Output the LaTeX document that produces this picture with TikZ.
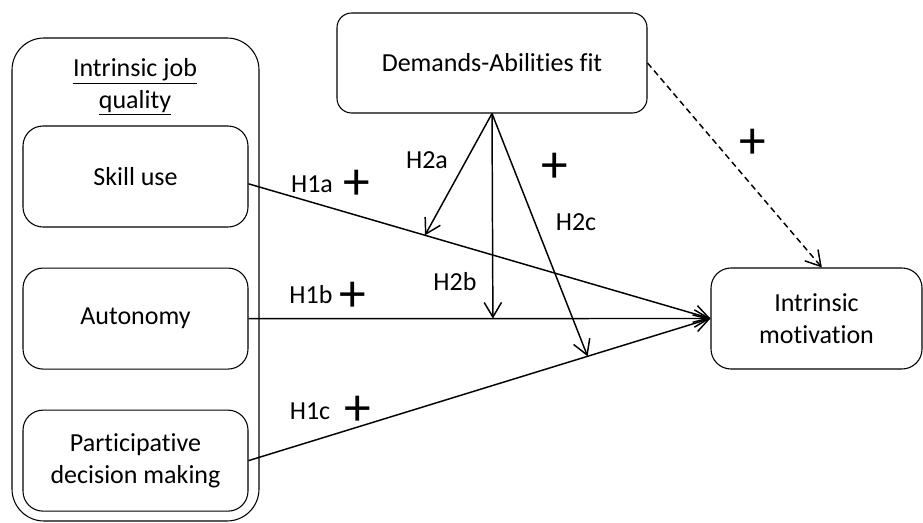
\documentclass[tikz,border=0pt]{standalone}
\usepackage{fontspec}
\setmainfont[Ligatures=NoCommon]{Carlito}
\usepackage{tikz}
\usetikzlibrary{calc}
\usetikzlibrary{arrows.meta}
\usetikzlibrary{positioning}

\begin{document}
\begin{tikzpicture}[x=0.75pt, y=-0.75pt,
    every node/.style={font=\fontsize{19.5}{23.5}\selectfont},
    factor/.style={draw, line width=0.8pt, rounded corners=15pt, align=center,
      minimum width=168.75pt, minimum height=75.75pt},
    hyp/.style={line width=1.1pt, -{Straight Barb[length=11pt,width=13pt]}},
    sign/.style={font=\fontsize{40}{40}\selectfont, inner sep=0pt}]
  \useasboundingbox (0,0) rectangle (923,523);

  % job quality block
  \draw[line width=0.8pt, rounded corners=24pt] (12,38) rectangle (259,521);
  \node[align=center] (title) at (135,87) {\underline{Intrinsic job}\\\underline{quality}};
  \node[factor] (skill) at (135.5,176.5) {Skill use};
  \node[factor, below=30pt of skill] (auto) {Autonomy};
  \node[factor, below=30pt of auto] (pdm) {Participative\\decision making};

  \node[factor, minimum width=232.5pt, minimum height=75pt, rounded corners=11pt] (fit) at (492,63) {Demands-Abilities fit};
  \node[factor, minimum width=158.25pt] (motiv) at (816.5,318.5) {Intrinsic\\motivation};

  % main effects
  \draw[hyp] ([yshift=-5.5pt]skill.east) -- coordinate[pos=0.382] (onskill) (motiv.west);
  \draw[hyp] (auto.east) -- coordinate[pos=0.529] (onauto) (motiv.west);
  \draw[hyp] (pdm.east) -- coordinate[pos=0.734] (onpdm) (motiv.west);

  % moderation
  \draw[hyp] (fit.south) -- (onskill);
  \draw[hyp] (fit.south) -- (onauto);
  \draw[hyp] (fit.south) -- (onpdm);
  \draw[hyp, dash pattern=on 4.5pt off 3pt] (fit.east) -- ([xshift=4pt]motiv.north);

  \node (h1a) at (312,184) {H1a};
  \node (h1b) at (311,295) {H1b};
  \node (h1c) at (310,411) {H1c};
  \node (h2a) at (427,160) {H2a};
  \node (h2b) at (455,282) {H2b};
  \node (h2c) at (576,222) {H2c};
  \node[sign] (s1a) at (357,185) {+};
  \node[sign] (s1b) at (353,297) {+};
  \node[sign] (s1c) at (358,411) {+};
  \node[sign] (s2c) at (555,168) {+};
  \node[sign] (sfit) at (753,144) {+};
\end{tikzpicture}
\end{document}
